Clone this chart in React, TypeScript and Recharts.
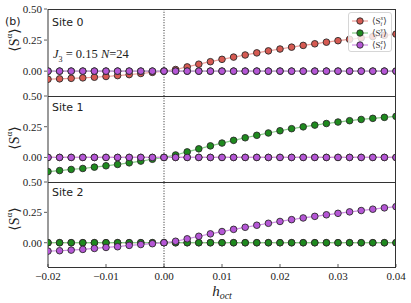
import React from "react";
import { LineChart, Line, XAxis, YAxis, ReferenceLine, Label } from "recharts";

const H = [
  -0.02, -0.018, -0.016, -0.014, -0.012, -0.01, -0.008, -0.006, -0.004, -0.002, 0,
  0.002, 0.004, 0.006, 0.008, 0.01, 0.012, 0.014, 0.016, 0.018, 0.02,
  0.022, 0.024, 0.026, 0.028, 0.03, 0.032, 0.034, 0.036, 0.038, 0.04,
];
const ZERO = [
  0, 0, 0, 0, 0, 0, 0, 0, 0, 0, 0,
  0, 0, 0, 0, 0, 0, 0, 0, 0, 0,
  0, 0, 0, 0, 0, 0, 0, 0, 0, 0,
];
// site 0, <S^x>
const SITE0_SX = [
  -0.065, -0.062, -0.058, -0.054, -0.049, -0.043, -0.036, -0.028, -0.019, -0.01, 0,
  0.013, 0.034, 0.056, 0.076, 0.095, 0.113, 0.13, 0.147, 0.163, 0.178,
  0.193, 0.207, 0.22, 0.233, 0.245, 0.256, 0.267, 0.278, 0.288, 0.298,
];
// site 1, <S^y>
const SITE1_SY = [
  -0.115, -0.107, -0.098, -0.09, -0.079, -0.068, -0.057, -0.044, -0.03, -0.015, 0,
  0.02, 0.045, 0.07, 0.094, 0.117, 0.139, 0.16, 0.18, 0.199, 0.217,
  0.234, 0.249, 0.263, 0.276, 0.288, 0.299, 0.309, 0.318, 0.326, 0.334,
];
// site 2, <S^z>
const SITE2_SZ = [
  -0.069, -0.066, -0.061, -0.055, -0.047, -0.039, -0.033, -0.022, -0.015, -0.008, 0,
  0.012, 0.032, 0.053, 0.073, 0.092, 0.11, 0.127, 0.144, 0.16, 0.175,
  0.19, 0.204, 0.217, 0.23, 0.242, 0.254, 0.265, 0.276, 0.287, 0.297,
];
const X_TICKS = [-0.02, -0.01, 0, 0.01, 0.02, 0.03, 0.04];
const Y_TICKS = [0, 0.25, 0.5];
const Y_MIN = -0.2;
const Y_MAX = 0.5;

const RED = "#d65a52";
const GREEN = "#1e8a1e";
const PURPLE = "#b556d6";
const RED_LINE = "#ec9f9a";
const GREEN_LINE = "#86cc86";
const PURPLE_LINE = "#cf8fe3";
const SERIF = "Liberation Serif, DejaVu Serif, serif";
const SANS = "DejaVu Sans, sans-serif";

const PAD = 8;
const LEFT = 48;
const RIGHT = 396;

const fmt = (v: number) => (v < 0 ? "\u2212" : "") + Math.abs(v).toFixed(2);

const XTick = (props: any) => {
  const { x, y, payload } = props;
  return (
    <g>
      <line x1={x} x2={x} y1={y} y2={y - 3} stroke="#333" strokeWidth={0.8} />
      <text x={x} y={y + 13} textAnchor="middle" fontFamily={SERIF} fontSize={11} fill="#222">
        {fmt(payload.value)}
      </text>
    </g>
  );
};

const XLabel = (props: any) => {
  const vb = props.viewBox;
  const cx = vb.x + vb.width / 2;
  return (
    <text x={cx} y={vb.y + 29} textAnchor="middle" fontFamily={SERIF} fontStyle="italic" fontSize={15} fill="#222">
      h<tspan fontSize={10} dy={3}>oct</tspan>
    </text>
  );
};

type PanelProps = {
  top: number;
  height: number;
  sx: number[];
  sy: number[];
  sz: number[];
  showX: boolean;
};

function Panel({ top, height, sx, sy, sz, showX }: PanelProps) {
  const rows = H.map((h, i) => ({ h, sx: sx[i], sy: sy[i], sz: sz[i] }));
  const xH = showX ? 40 : 0;
  const dot = (c: string) => ({ r: 3.3, fill: c, stroke: "#2a2a2a", strokeWidth: 0.9 });
  return (
    <div style={{ position: "absolute", left: 0, top: top - PAD, width: 411 }}>
      <LineChart
        width={411}
        height={height + PAD + xH}
        data={rows}
        margin={{ top: PAD, right: 411 - RIGHT, bottom: 0, left: 8 }}
      >
        <XAxis
          dataKey="h"
          type="number"
          domain={[-0.02, 0.04]}
          ticks={X_TICKS}
          hide={!showX}
          height={xH}
          axisLine={false}
          tickLine={false}
          tickSize={0}
          tickMargin={0}
          tick={<XTick />}
          allowDataOverflow
          interval={0}
        >
          {showX && <Label content={XLabel} />}
        </XAxis>
        <YAxis
          domain={[Y_MIN, Y_MAX]}
          ticks={Y_TICKS}
          width={40}
          axisLine={{ stroke: "#9a9a9a", strokeWidth: 2 }}
          tickLine={false}
          tick={false}
        />
        <ReferenceLine x={0} stroke="#111" strokeDasharray="1 1.6" strokeWidth={0.9} />
        <Line dataKey="sx" stroke={RED_LINE} strokeWidth={1.2} dot={dot(RED)} isAnimationActive={false} />
        <Line dataKey="sy" stroke={GREEN_LINE} strokeWidth={1.2} dot={dot(GREEN)} isAnimationActive={false} />
        <Line dataKey="sz" stroke={PURPLE_LINE} strokeWidth={1.2} dot={dot(PURPLE)} isAnimationActive={false} />
      </LineChart>
    </div>
  );
}

// y tick marks and labels of one panel, same linear mapping as the axis domain
function YTicks({ top, height }: { top: number; height: number }) {
  const items = Y_TICKS.map((v) => ({ v, y: top + ((Y_MAX - v) / (Y_MAX - Y_MIN)) * height }));
  return (
    <svg
      width={LEFT}
      height={303}
      style={{ position: "absolute", left: 0, top: 0, zIndex: 5, overflow: "visible", pointerEvents: "none" }}
    >
      {items.map((it) => (
        <g key={String(it.v)}>
          <line x1={LEFT - 4} x2={LEFT - 1} y1={it.y} y2={it.y} stroke="#333" strokeWidth={0.8} />
          <text x={LEFT - 6} y={it.y + 3.8} textAnchor="end" fontFamily={SERIF} fontSize={11} fill="#222">
            {fmt(it.v)}
          </text>
        </g>
      ))}
    </svg>
  );
}

const Frame = ({ top, height }: { top: number; height: number }) => (
  <div
    style={{
      position: "absolute",
      left: LEFT,
      top,
      width: RIGHT - LEFT,
      height,
      boxSizing: "border-box",
      borderTop: "1px solid #333",
      borderRight: "1px solid #333",
      borderBottom: "1px solid #333",
      pointerEvents: "none",
    }}
  />
);

const SiteText = ({ top, text }: { top: number; text: string }) => (
  <div style={{ position: "absolute", left: 52, top, fontFamily: SANS, fontSize: 11, color: "#222", lineHeight: "13px" }}>
    {text}
  </div>
);

const YLabel = ({ cy }: { cy: number }) => (
  <svg width={24} height={303} style={{ position: "absolute", left: 2, top: 0, overflow: "visible", pointerEvents: "none" }}>
    <text x={12} y={cy} transform={`rotate(-90 12 ${cy})`} textAnchor="middle" dominantBaseline="central" fontFamily={SERIF} fontSize={14} fill="#222">
      {"\u27E8"}S<tspan fontSize={9} dy={-5}>{"\u03B1"}</tspan>
      <tspan dy={5}>{"\u27E9"}</tspan>
    </text>
  </svg>
);

const LegendRow = ({ color, line, sup }: { color: string; line: string; sup: string }) => (
  <div style={{ display: "flex", alignItems: "center", height: 12 }}>
    <svg width={18} height={10} style={{ display: "block" }}>
      <line x1={1} x2={17} y1={5} y2={5} stroke={line} strokeWidth={1.2} />
      <circle cx={9} cy={5} r={3.2} fill={color} stroke="#2a2a2a" strokeWidth={0.9} />
    </svg>
    <span style={{ fontFamily: SERIF, fontSize: 9, color: "#333", marginLeft: 3, display: "flex", alignItems: "center" }}>
      {"\u27E8"}S
      <span style={{ display: "inline-flex", flexDirection: "column", fontSize: 6, lineHeight: "6px", fontStyle: "italic" }}>
        <span>{sup}</span>
        <span>i</span>
      </span>
      {"\u27E9"}
    </span>
  </div>
);

export default function App() {
  return (
    <div style={{ position: "absolute", left: 0, top: 0, width: 411, height: 303, background: "#fff", overflow: "hidden" }}>
      <Panel top={9} height={87} sx={SITE0_SX} sy={ZERO} sz={ZERO} showX={false} />
      <Panel top={96} height={86} sx={ZERO} sy={SITE1_SY} sz={ZERO} showX={false} />
      <Panel top={182} height={85} sx={ZERO} sy={ZERO} sz={SITE2_SZ} showX={true} />
      <Frame top={9} height={88} />
      <Frame top={96} height={87} />
      <Frame top={182} height={86} />
      <YLabel cy={40} />
      <YLabel cy={138} />
      <YLabel cy={219} />
      <div style={{ position: "absolute", left: 5, top: 15, fontFamily: SANS, fontSize: 11, color: "#222", lineHeight: "13px" }}>(b)</div>
      <SiteText top={16} text="Site 0" />
      <SiteText top={101} text="Site 1" />
      <SiteText top={186} text="Site 2" />
      <div style={{ position: "absolute", left: 53, top: 47, fontFamily: SERIF, fontSize: 12.5, color: "#222", whiteSpace: "nowrap" }}>
        <i>J</i>
        <sub style={{ fontSize: 8 }}>3</sub> = 0.15 <i>N</i>=24
      </div>
      <div
        style={{
          position: "absolute",
          left: 348,
          top: 12,
          width: 44,
          height: 40,
          boxSizing: "border-box",
          padding: "2px 0 0 2px",
          background: "rgba(255,255,255,0.8)",
          border: "1px solid #d6d6d6",
          borderRadius: 3,
        }}
      >
        <LegendRow color={RED} line={RED_LINE} sup="x" />
        <LegendRow color={GREEN} line={GREEN_LINE} sup="y" />
        <LegendRow color={PURPLE} line={PURPLE_LINE} sup="z" />
      </div>
      <YTicks top={9} height={87} />
      <YTicks top={96} height={86} />
      <YTicks top={182} height={85} />
    </div>
  );
}
